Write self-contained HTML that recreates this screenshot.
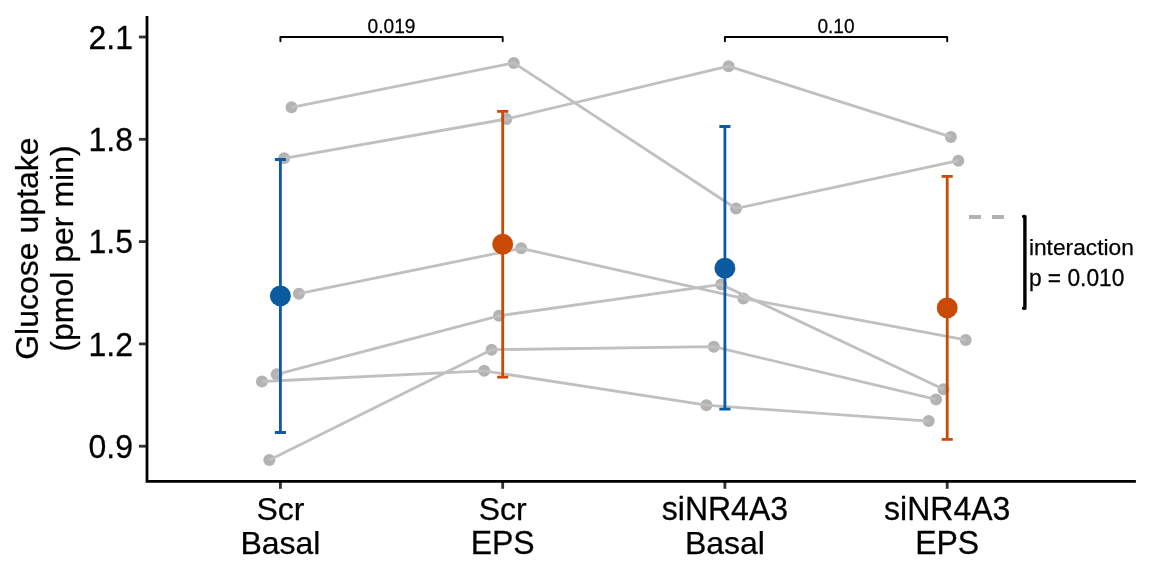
<!DOCTYPE html>
<html><head><meta charset="utf-8"><title>Glucose uptake</title>
<style>
html,body{margin:0;padding:0;background:#fff;}
svg{display:block;will-change:transform;}
text{font-family:"Liberation Sans",Arial,Helvetica,sans-serif;fill:#000;stroke:#000;stroke-width:0.25px;}
</style></head><body>
<svg width="1152" height="576" viewBox="0 0 1152 576">
<rect width="1152" height="576" fill="#fff"/>

<g fill="#B3B3B3">
<circle cx="291.5" cy="107.3" r="6"/>
<circle cx="513.8" cy="62.9" r="6"/>
<circle cx="736.0" cy="208.5" r="6"/>
<circle cx="958.3" cy="160.7" r="6"/>
<circle cx="284.1" cy="158.3" r="6"/>
<circle cx="506.4" cy="119.0" r="6"/>
<circle cx="728.6" cy="66.2" r="6"/>
<circle cx="950.9" cy="136.9" r="6"/>
<circle cx="298.9" cy="293.7" r="6"/>
<circle cx="521.2" cy="248.3" r="6"/>
<circle cx="743.4" cy="298.4" r="6"/>
<circle cx="965.7" cy="339.9" r="6"/>
<circle cx="276.7" cy="374.3" r="6"/>
<circle cx="499.0" cy="315.8" r="6"/>
<circle cx="721.2" cy="284.4" r="6"/>
<circle cx="943.5" cy="389.3" r="6"/>
<circle cx="261.9" cy="381.5" r="6"/>
<circle cx="484.2" cy="370.8" r="6"/>
<circle cx="706.4" cy="405.2" r="6"/>
<circle cx="928.7" cy="421.1" r="6"/>
<circle cx="269.3" cy="460.1" r="6"/>
<circle cx="491.6" cy="349.7" r="6"/>
<circle cx="713.8" cy="346.7" r="6"/>
<circle cx="936.1" cy="399.4" r="6"/>
</g>
<g fill="none" stroke="#C0C0C0" stroke-width="2.8" stroke-linejoin="round">
<polyline points="291.5,107.3 513.8,62.9 736.0,208.5 958.3,160.7"/>
<polyline points="284.1,158.3 506.4,119.0 728.6,66.2 950.9,136.9"/>
<polyline points="298.9,293.7 521.2,248.3 743.4,298.4 965.7,339.9"/>
<polyline points="276.7,374.3 499.0,315.8 721.2,284.4 943.5,389.3"/>
<polyline points="261.9,381.5 484.2,370.8 706.4,405.2 928.7,421.1"/>
<polyline points="269.3,460.1 491.6,349.7 713.8,346.7 936.1,399.4"/>
</g>
<path d="M274.85,159.5H285.95M274.85,432.5H285.95M280.4,159.5V432.5" stroke="#0C5BA0" stroke-width="2.8" fill="none"/>
<path d="M497.15,111.4H508.25M497.15,377.2H508.25M502.7,111.4V377.2" stroke="#C84A05" stroke-width="2.8" fill="none"/>
<path d="M719.35,126.5H730.45M719.35,409.2H730.45M724.9,126.5V409.2" stroke="#0C5BA0" stroke-width="2.8" fill="none"/>
<path d="M941.65,176.3H952.75M941.65,439.3H952.75M947.2,176.3V439.3" stroke="#C84A05" stroke-width="2.8" fill="none"/>
<circle cx="280.4" cy="295.9" r="10.45" fill="#0C5BA0"/>
<circle cx="502.7" cy="244.2" r="10.45" fill="#C84A05"/>
<circle cx="724.9" cy="268.2" r="10.45" fill="#0C5BA0"/>
<circle cx="947.2" cy="307.9" r="10.45" fill="#C84A05"/>
<g fill="none" stroke="#000" stroke-width="1.9" stroke-linecap="round" stroke-linejoin="round">
<path d="M280.4,41.2V37H502.7V41.2"/>
<path d="M724.9,41.2V37H947.2V41.2"/>
</g>
<text transform="translate(391.5,33.1) scale(1,1.045)" font-size="19.2" text-anchor="middle">0.019</text>
<text transform="translate(836,33.1) scale(1,1.045)" font-size="19.1" text-anchor="middle">0.10</text>
<path d="M969,217H1004" stroke="#B1B1B1" stroke-width="3.8" stroke-dasharray="12 11" fill="none"/>
<path d="M1023.6,216.5H1024.9V308.2H1023.6" stroke="#000" stroke-width="3.4" stroke-linecap="round" stroke-linejoin="round" fill="none"/>
<text x="1028.9" y="254.7" font-size="22.76">interaction</text>
<text transform="translate(1028.9,286.3) scale(1,1.04)" font-size="22.76">p = 0.010</text>
<g stroke="#333" stroke-width="2.8" fill="none">
<path d="M138.9,37H147"/>
<path d="M138.9,139.3H147"/>
<path d="M138.9,241.6H147"/>
<path d="M138.9,343.9H147"/>
<path d="M138.9,446.2H147"/>
<path d="M280.4,481.4V488.8"/>
<path d="M502.7,481.4V488.8"/>
<path d="M724.9,481.4V488.8"/>
<path d="M947.2,481.4V488.8"/>
</g>
<path d="M147,16V481.4H1135.9" stroke="#000" stroke-width="2.8" fill="none" stroke-linecap="butt" stroke-linejoin="miter"/>
<text transform="translate(133.0,48.7) scale(1,1.045)" font-size="32" text-anchor="end">2.1</text>
<text transform="translate(133.0,151.0) scale(1,1.045)" font-size="32" text-anchor="end">1.8</text>
<text transform="translate(133.0,253.3) scale(1,1.045)" font-size="32" text-anchor="end">1.5</text>
<text transform="translate(133.0,355.6) scale(1,1.045)" font-size="32" text-anchor="end">1.2</text>
<text transform="translate(133.0,457.9) scale(1,1.045)" font-size="32" text-anchor="end">0.9</text>
<text x="280.4" y="519.5" font-size="32" text-anchor="middle">Scr</text>
<text x="280.4" y="553.9" font-size="32" text-anchor="middle">Basal</text>
<text x="502.7" y="519.5" font-size="32" text-anchor="middle">Scr</text>
<text transform="translate(502.7,553.9) scale(1,1.04)" font-size="32" text-anchor="middle">EPS</text>
<text transform="translate(724.9,519.5) scale(1,1.04)" font-size="32" text-anchor="middle">siNR4A3</text>
<text x="724.9" y="553.9" font-size="32" text-anchor="middle">Basal</text>
<text transform="translate(947.2,519.5) scale(1,1.04)" font-size="32" text-anchor="middle">siNR4A3</text>
<text transform="translate(947.2,553.9) scale(1,1.04)" font-size="32" text-anchor="middle">EPS</text>
<text transform="translate(38.3,248.6) rotate(-90)" font-size="32" text-anchor="middle">Glucose uptake</text>
<text transform="translate(73,248.5) rotate(-90)" font-size="32" text-anchor="middle">(pmol per min)</text>
</svg></body></html>
